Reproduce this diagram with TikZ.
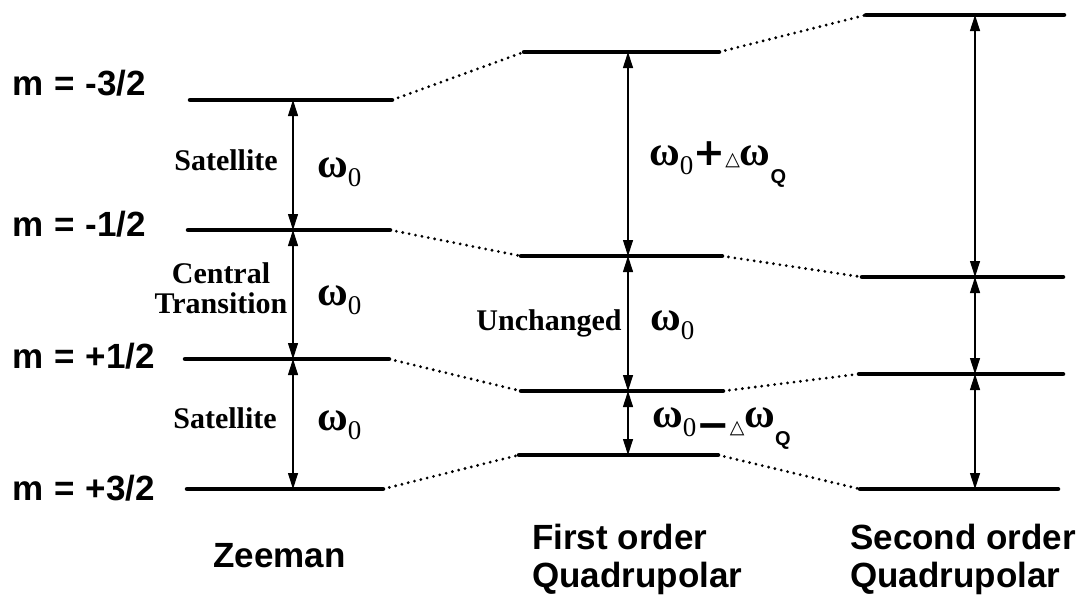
\documentclass[tikz,border=0pt]{standalone}
\usepackage{fontspec}
\setmainfont{Liberation Serif}
\newfontfamily\sansf{Liberation Sans}
\newfontfamily\symf{DejaVu Sans}
\usetikzlibrary{arrows.meta}
\newcommand\omg{{\bfseries\fontsize{42}{44}\selectfont ω}}
\newcommand\subz{\raisebox{-9pt}{\fontsize{27}{27}\selectfont 0}}
\newcommand\subq{\raisebox{-18pt}{\sansf\bfseries\fontsize{20}{20}\selectfont Q}}
\newcommand\tri{{\symf\fontsize{19}{19}\selectfont △}}
\newcommand\wsp{\hspace{11pt}}
\begin{document}
\begin{tikzpicture}[x=1pt,y=-1pt,
  lvl/.style={line width=4.5pt,line cap=round},
  link/.style={line width=3.1pt,line cap=round,dash pattern=on 0pt off 6.5pt},
  trans/.style={line width=1.1pt,{Triangle[length=16pt,width=10pt]}-{Triangle[length=16pt,width=10pt]}},
  mlab/.style={anchor=base west,inner sep=0pt,font=\sansf\bfseries\fontsize{35}{38}\selectfont},
  blab/.style={anchor=base west,inner sep=0pt,font=\sansf\bfseries\fontsize{35}{38}\selectfont},
  tlab/.style={anchor=base,inner sep=0pt,font=\bfseries\fontsize{30}{32}\selectfont},
  wlab/.style={anchor=base west,inner sep=0pt}]
\fill[white] (0,0) rectangle (1091,606);
% Zeeman levels
\coordinate (z1l) at (190,100); \coordinate (z1r) at (392,100);
\coordinate (z2l) at (188,230); \coordinate (z2r) at (390,230);
\coordinate (z3l) at (185,359); \coordinate (z3r) at (389,359);
\coordinate (z4l) at (187,489); \coordinate (z4r) at (383,489);
% First order levels
\coordinate (f1l) at (524,52); \coordinate (f1r) at (719,52);
\coordinate (f2l) at (521,256); \coordinate (f2r) at (722,256);
\coordinate (f3l) at (521,391); \coordinate (f3r) at (723,391);
\coordinate (f4l) at (519,455); \coordinate (f4r) at (718,455);
% Second order levels
\coordinate (s1l) at (866,15); \coordinate (s1r) at (1064,15);
\coordinate (s2l) at (862,277); \coordinate (s2r) at (1063,277);
\coordinate (s3l) at (859,374); \coordinate (s3r) at (1063,374);
\coordinate (s4l) at (860,489); \coordinate (s4r) at (1058,489);
\foreach \c in {z,f,s}{\foreach \i in {1,2,3,4}{\draw[lvl] (\c\i l) -- (\c\i r);}}
% dotted links
\foreach \i in {1,2,3,4}{
  \draw[link] (z\i r) -- (f\i l);
  \draw[link] (f\i r) -- (s\i l);}
% transition arrow end points
\foreach \i/\y in {1/100,2/230,3/359,4/489}{\coordinate (za\i) at (293,\y);}
\foreach \i/\y in {1/52,2/256,3/391,4/455}{\coordinate (fa\i) at (628,\y);}
\foreach \i/\y in {1/15,2/277,3/374,4/489}{\coordinate (sa\i) at (975,\y);}
\foreach \c in {za,fa,sa}{
  \draw[trans] (\c1) -- (\c2);
  \draw[trans] (\c2) -- (\c3);
  \draw[trans] (\c3) -- (\c4);}
% m labels
\node[mlab] (m1) at (12,95) {m\wsp=\wsp-3/2};
\node[mlab] (m2) at (12,236) {m\wsp=\wsp-1/2};
\node[mlab] (m3) at (12,368) {m\wsp=\wsp+1/2};
\node[mlab] (m4) at (12,500) {m\wsp=\wsp+3/2};
% transition labels
\node[tlab] (sat1) at (226,170) {Satellite};
\node[tlab] (cen) at (221,283) {Central};
\node[tlab] (tra) at (221,313) {Transition};
\node[tlab] (sat2) at (225,428) {Satellite};
\node[tlab] (unc) at (549,330) {Unchanged};
% omega labels
\node[wlab] (w1) at (317,177) {\omg\subz};
\node[wlab] (w2) at (317,305) {\omg\subz};
\node[wlab] (w3) at (317,430) {\omg\subz};
\node[wlab] (w4) at (650,330) {\omg\subz};
\node[wlab] (w5) at (649,165) {\omg\subz{\symf\bfseries\fontsize{38}{38}\selectfont +}\tri\omg\subq};
\node[wlab] (w6) at (652,427) {\omg\subz\raisebox{-11pt}{\symf\bfseries\fontsize{40}{40}\selectfont −}\raisebox{-6pt}{\tri}\omg\subq};
% bottom labels
\node[blab] (zee) at (213,567) {Zeeman};
\node[blab] (fo1) at (532,549) {First order};
\node[blab] (fo2) at (532,587) {Quadrupolar};
\node[blab] (so1) at (850,549) {Second order};
\node[blab] (so2) at (850,587) {Quadrupolar};
\end{tikzpicture}
\end{document}
